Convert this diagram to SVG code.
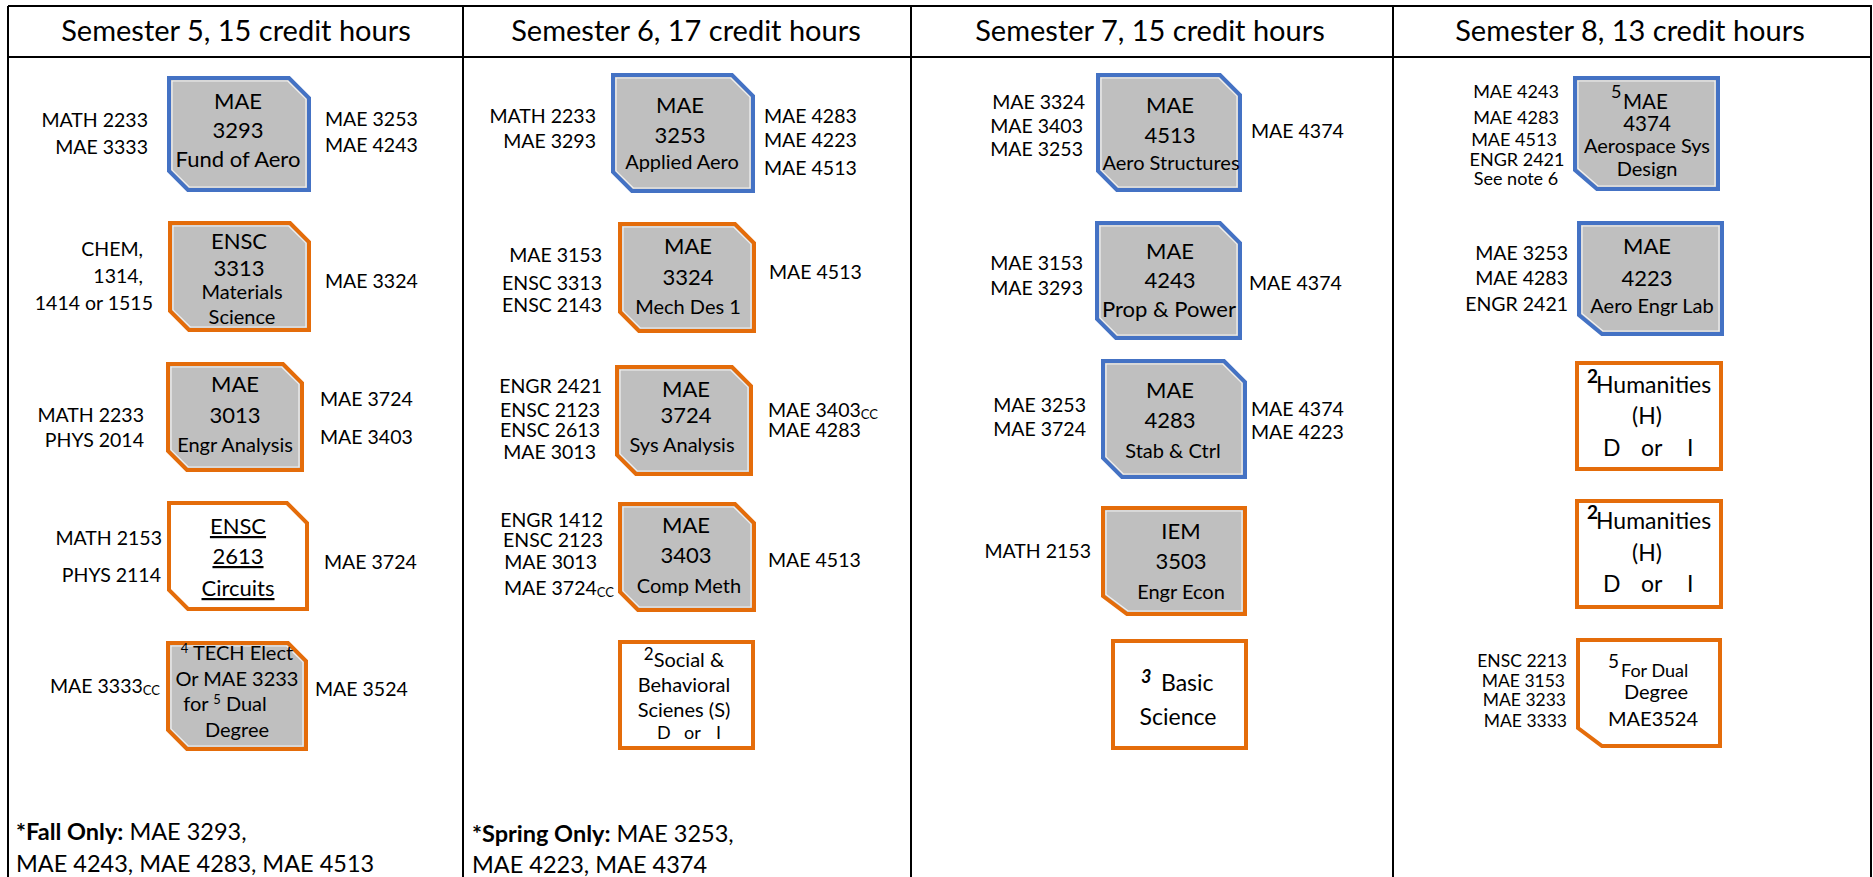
<svg xmlns="http://www.w3.org/2000/svg" width="1873" height="877" viewBox="0 0 1873 877">
<style>
text{font-family:Lato,"Open Sans","Liberation Sans",sans-serif;fill:#000}
.h{font-size:29px;text-anchor:middle}
.l{font-size:19.5px}
.le{font-size:19.5px;text-anchor:end}
.sm{font-size:18px}
.t{font-size:22px;text-anchor:middle}
.s{font-size:20px;text-anchor:middle}
.f{font-size:23.5px}
.blue{fill:#BFBFBF;stroke:#4472C4;stroke-width:4;stroke-linejoin:miter}
.og{fill:#BFBFBF;stroke:#E46C0A;stroke-width:4}
.ow{fill:#FFFFFF;stroke:#E46C0A;stroke-width:4}
.hl{fill:none;stroke:#FFFFFF;stroke-width:1.2;opacity:0.8}
.grid{stroke:#000;stroke-width:2;fill:none}
.cc{font-size:13px}
</style>
<rect width="1873" height="877" fill="#fff"/>
<g id="grid" class="grid">
<line x1="8" y1="6" x2="1872" y2="6"/>
<line x1="8" y1="57" x2="1872" y2="57"/>
<line x1="8" y1="6" x2="8" y2="877"/>
<line x1="463" y1="6" x2="463" y2="877"/>
<line x1="911" y1="6" x2="911" y2="877"/>
<line x1="1393" y1="6" x2="1393" y2="877"/>
<line x1="1871" y1="6" x2="1871" y2="877"/>
</g>
<g id="headers">
<text class="h" x="236" y="41">Semester 5, 15 credit hours</text>
<text class="h" x="686" y="41">Semester 6, 17 credit hours</text>
<text class="h" x="1150" y="41">Semester 7, 15 credit hours</text>
<text class="h" x="1630" y="41">Semester 8, 13 credit hours</text>
</g>
<g id="connectors"/>

<!-- Semester 5 -->
<g id="mae3293">
<path class="blue" d="M169 78 H289 L309 98 V190 H188 L169 171 Z"/>
<path class="hl" d="M172 81 H287.8 L306 99.2 V187 H189.2 L172 169.8 Z"/>
<text class="t" x="238" y="109">MAE</text>
<text class="t" x="238" y="138">3293</text>
<text class="t" x="238" y="167">Fund of Aero</text>
<text class="le" x="148" y="127">MATH 2233</text>
<text class="le" x="148" y="154">MAE 3333</text>
<text class="l" x="325" y="126">MAE 3253</text>
<text class="l" x="325" y="152">MAE 4243</text>
</g>
<g id="ensc3313">
<path class="og" d="M170 223 H290 L309 242 V330 H189 L170 311 Z"/>
<path class="hl" d="M173 226 H288.8 L306 243.2 V327 H190.2 L173 309.8 Z"/>
<text class="t" x="239" y="249">ENSC</text>
<text class="t" x="239" y="276">3313</text>
<text class="s" x="242" y="299" font-size="19">Materials</text>
<text class="s" x="242" y="324" font-size="19">Science</text>
<text class="le" x="143" y="256">CHEM,</text>
<text class="le" x="143" y="283">1314,</text>
<text class="le" x="153" y="310">1414 or 1515</text>
<text class="l" x="325" y="288">MAE 3324</text>
</g>
<g id="mae3013">
<path class="og" d="M168 364 H283 L302 383 V470 H187 L168 451 Z"/>
<path class="hl" d="M171 367 H281.8 L299 384.2 V467 H188.2 L171 449.8 Z"/>
<text class="t" x="235" y="392">MAE</text>
<text class="t" x="235" y="423">3013</text>
<text class="s" x="235" y="452">Engr Analysis</text>
<text class="le" x="144" y="422">MATH 2233</text>
<text class="le" x="144" y="447">PHYS 2014</text>
<text class="l" x="320" y="406">MAE 3724</text>
<text class="l" x="320" y="444">MAE 3403</text>
</g>
<g id="ensc2613">
<path class="ow" d="M169 503 H287 L307 523 V609 H188 L169 590 Z"/>
<text class="t" x="238" y="534" text-decoration="underline">ENSC</text>
<text class="t" x="238" y="564" text-decoration="underline">2613</text>
<text class="t" x="238" y="596" text-decoration="underline">Circuits</text>
<text class="le" x="162" y="545">MATH 2153</text>
<text class="le" x="161" y="582">PHYS 2114</text>
<text class="l" x="324" y="569">MAE 3724</text>
</g>
<g id="techelect">
<path class="og" d="M168 643 H288 L306 661 V749 H187 L168 730 Z"/>
<path class="hl" d="M171 646 H286.8 L303 662.2 V746 H188.2 L171 728.8 Z"/>
<text class="s" x="237" y="660"><tspan class="cc" dy="-7">4</tspan><tspan dy="7"> TECH Elect</tspan></text>
<text class="s" x="237" y="686">Or MAE 3233</text>
<text class="s" x="225" y="711">for <tspan class="cc" dy="-7">5</tspan><tspan dy="7"> Dual</tspan></text>
<text class="s" x="237" y="737">Degree</text>
<text class="le" x="160" y="693">MAE 3333<tspan class="cc" dy="2">CC</tspan></text>
<text class="l" x="315" y="696">MAE 3524</text>
</g>
<g id="note5">
<text class="f" x="16" y="840"><tspan font-weight="bold">*Fall Only:</tspan> MAE 3293,</text>
<text class="f" x="16" y="872">MAE 4243, MAE 4283, MAE 4513</text>
</g>

<!-- Semester 6 -->
<g id="mae3253">
<path class="blue" d="M613 75 H732 L753 96 V191 H632 L613 172 Z"/>
<path class="hl" d="M616 78 H730.8 L750 97.2 V188 H633.2 L616 170.8 Z"/>
<text class="t" x="680" y="113">MAE</text>
<text class="t" x="680" y="143">3253</text>
<text class="s" x="682" y="169">Applied Aero</text>
<text class="le" x="596" y="123">MATH 2233</text>
<text class="le" x="596" y="148">MAE 3293</text>
<text class="l" x="764" y="123">MAE 4283</text>
<text class="l" x="764" y="147">MAE 4223</text>
<text class="l" x="764" y="175">MAE 4513</text>
</g>
<g id="mae3324">
<path class="og" d="M620 224 H735 L754 243 V331 H639 L620 312 Z"/>
<path class="hl" d="M623 227 H733.8 L751 244.2 V328 H640.2 L623 310.8 Z"/>
<text class="t" x="688" y="254">MAE</text>
<text class="t" x="688" y="285">3324</text>
<text class="s" x="688" y="314">Mech Des 1</text>
<text class="le" x="602" y="262">MAE 3153</text>
<text class="le" x="602" y="290">ENSC 3313</text>
<text class="le" x="602" y="312">ENSC 2143</text>
<text class="l" x="769" y="279">MAE 4513</text>
</g>
<g id="mae3724">
<path class="og" d="M617 367 H732 L751 386 V474 H636 L617 455 Z"/>
<path class="hl" d="M620 370 H730.8 L748 387.2 V471 H637.2 L620 453.8 Z"/>
<text class="t" x="686" y="397">MAE</text>
<text class="t" x="686" y="423">3724</text>
<text class="s" x="682" y="452">Sys Analysis</text>
<text class="le" x="602" y="393">ENGR 2421</text>
<text class="le" x="600" y="417">ENSC 2123</text>
<text class="le" x="600" y="437">ENSC 2613</text>
<text class="le" x="596" y="459">MAE 3013</text>
<text class="l" x="768" y="417">MAE 3403<tspan class="cc" dy="2">CC</tspan></text>
<text class="l" x="768" y="437">MAE 4283</text>
</g>
<g id="mae3403">
<path class="og" d="M620 504 H735 L754 523 V610 H638 L620 592 Z"/>
<path class="hl" d="M623 507 H733.8 L751 524.2 V607 H639.2 L623 590.8 Z"/>
<text class="t" x="686" y="533">MAE</text>
<text class="t" x="686" y="563">3403</text>
<text class="s" x="689" y="593">Comp Meth</text>
<text class="le" x="603" y="527">ENGR 1412</text>
<text class="le" x="603" y="547">ENSC 2123</text>
<text class="le" x="597" y="569">MAE 3013</text>
<text class="le" x="614" y="595">MAE 3724<tspan class="cc" dy="2">CC</tspan></text>
<text class="l" x="768" y="567">MAE 4513</text>
</g>
<g id="social">
<rect class="ow" x="620" y="642" width="133" height="106"/>
<text class="s" x="684" y="667"><tspan font-size="17" dy="-7">2</tspan><tspan dy="7">Social &amp;</tspan></text>
<text class="s" x="684" y="692">Behavioral</text>
<text class="s" x="684" y="717">Scienes (S)</text>
<text class="sm" x="657" y="739">D</text>
<text class="sm" x="684" y="739">or</text>
<text class="sm" x="716" y="739">I</text>
</g>
<g id="note6">
<text class="f" x="472" y="842"><tspan font-weight="bold">*Spring Only:</tspan> MAE 3253,</text>
<text class="f" x="472" y="873">MAE 4223, MAE 4374</text>
</g>

<!-- Semester 7 -->
<g id="mae4513">
<path class="blue" d="M1098 75 H1220 L1240 95 V190 H1117 L1098 171 Z"/>
<path class="hl" d="M1101 78 H1218.8 L1237 96.2 V187 H1118.2 L1101 169.8 Z"/>
<text class="t" x="1170" y="113">MAE</text>
<text class="t" x="1170" y="143">4513</text>
<text class="s" x="1171" y="170" font-size="17.5">Aero Structures</text>
<text class="le" x="1085" y="109">MAE 3324</text>
<text class="le" x="1083" y="133">MAE 3403</text>
<text class="le" x="1083" y="156">MAE 3253</text>
<text class="l" x="1251" y="138">MAE 4374</text>
</g>
<g id="mae4243">
<path class="blue" d="M1097 223 H1220 L1240 243 V338 H1116 L1097 319 Z"/>
<path class="hl" d="M1100 226 H1218.8 L1237 244.2 V335 H1117.2 L1100 317.8 Z"/>
<text class="t" x="1170" y="259">MAE</text>
<text class="t" x="1170" y="288">4243</text>
<text class="t" x="1169" y="317" font-size="21">Prop &amp; Power</text>
<text class="le" x="1083" y="270">MAE 3153</text>
<text class="le" x="1083" y="295">MAE 3293</text>
<text class="l" x="1249" y="290">MAE 4374</text>
</g>
<g id="mae4283">
<path class="blue" d="M1103 361 H1224 L1245 382 V477 H1122 L1103 458 Z"/>
<path class="hl" d="M1106 364 H1222.8 L1242 383.2 V474 H1123.2 L1106 456.8 Z"/>
<text class="t" x="1170" y="398">MAE</text>
<text class="t" x="1170" y="428">4283</text>
<text class="s" x="1173" y="458">Stab &amp; Ctrl</text>
<text class="le" x="1086" y="412">MAE 3253</text>
<text class="le" x="1086" y="436">MAE 3724</text>
<text class="l" x="1251" y="416">MAE 4374</text>
<text class="l" x="1251" y="439">MAE 4223</text>
</g>
<g id="iem3503">
<path class="og" d="M1103 508 H1245 V614 H1127 L1103 596 Z"/>
<path class="hl" d="M1106 511 H1242 V611 H1128 L1106 594.5 Z"/>
<text class="t" x="1181" y="539">IEM</text>
<text class="t" x="1181" y="569">3503</text>
<text class="s" x="1181" y="599">Engr Econ</text>
<text class="le" x="1091" y="558">MATH 2153</text>
</g>
<g id="basicscience">
<rect class="ow" x="1113" y="641" width="133" height="107"/>
<text x="1141" y="683" font-size="18" font-weight="bold" font-style="italic">3</text>
<text x="1161" y="691" font-size="23">Basic</text>
<text x="1178" y="725" font-size="23" text-anchor="middle">Science</text>
</g>

<!-- Semester 8 -->
<g id="mae4374">
<path class="blue" d="M1575 78 H1718 V189 H1597 L1575 170 Z"/>
<path class="hl" d="M1578 81 H1715 V186 H1598 L1578 168.5 Z"/>
<text x="1611" y="98" font-size="18">5</text>
<text x="1623" y="109" font-size="20.5">MAE</text>
<text x="1647" y="131" font-size="20.5" text-anchor="middle">4374</text>
<text class="s" x="1647" y="153" font-size="19.5">Aerospace Sys</text>
<text class="s" x="1647" y="176" font-size="19.5">Design</text>
<text class="sm" x="1516" y="98" text-anchor="middle">MAE 4243</text>
<text class="sm" x="1516" y="124" text-anchor="middle">MAE 4283</text>
<text class="sm" x="1514" y="146" text-anchor="middle">MAE 4513</text>
<text class="sm" x="1517" y="166" text-anchor="middle">ENGR 2421</text>
<text class="sm" x="1516" y="185" text-anchor="middle">See note 6</text>
</g>
<g id="mae4223">
<path class="blue" d="M1579 223 H1722 V334 H1602 L1579 315 Z"/>
<path class="hl" d="M1582 226 H1719 V331 H1603 L1582 313.5 Z"/>
<text class="t" x="1647" y="254">MAE</text>
<text class="t" x="1647" y="286">4223</text>
<text class="s" x="1652" y="313">Aero Engr Lab</text>
<text class="le" x="1568" y="260">MAE 3253</text>
<text class="le" x="1568" y="285">MAE 4283</text>
<text class="le" x="1568" y="311">ENGR 2421</text>
</g>
<g id="humanities1">
<rect class="ow" x="1577" y="363" width="144" height="106"/>
<text x="1587" y="383" font-size="19" font-weight="bold">2</text>
<text x="1596" y="393" font-size="23">Humanities</text>
<text x="1647" y="424" font-size="23" text-anchor="middle">(H)</text>
<text x="1603" y="456" font-size="23">D</text>
<text x="1641" y="456" font-size="23">or</text>
<text x="1687" y="456" font-size="23">I</text>
</g>
<g id="humanities2">
<rect class="ow" x="1577" y="501" width="144" height="106"/>
<text x="1587" y="519" font-size="19" font-weight="bold">2</text>
<text x="1596" y="529" font-size="23">Humanities</text>
<text x="1647" y="561" font-size="23" text-anchor="middle">(H)</text>
<text x="1603" y="592" font-size="23">D</text>
<text x="1641" y="592" font-size="23">or</text>
<text x="1687" y="592" font-size="23">I</text>
</g>
<g id="dualdegree">
<path class="ow" d="M1578 640 H1720 V746 H1602 L1578 728 Z"/>
<text x="1608" y="668" font-size="19">5</text>
<text x="1621" y="677" font-size="18">For Dual</text>
<text class="s" x="1656" y="699" font-size="19">Degree</text>
<text class="s" x="1653" y="726">MAE3524</text>
<text x="1567" y="667" font-size="17.5" text-anchor="end">ENSC 2213</text>
<text x="1565" y="687" font-size="17.5" text-anchor="end">MAE 3153</text>
<text x="1566" y="706" font-size="17.5" text-anchor="end">MAE 3233</text>
<text x="1567" y="727" font-size="17.5" text-anchor="end">MAE 3333</text>
</g>
</svg>
